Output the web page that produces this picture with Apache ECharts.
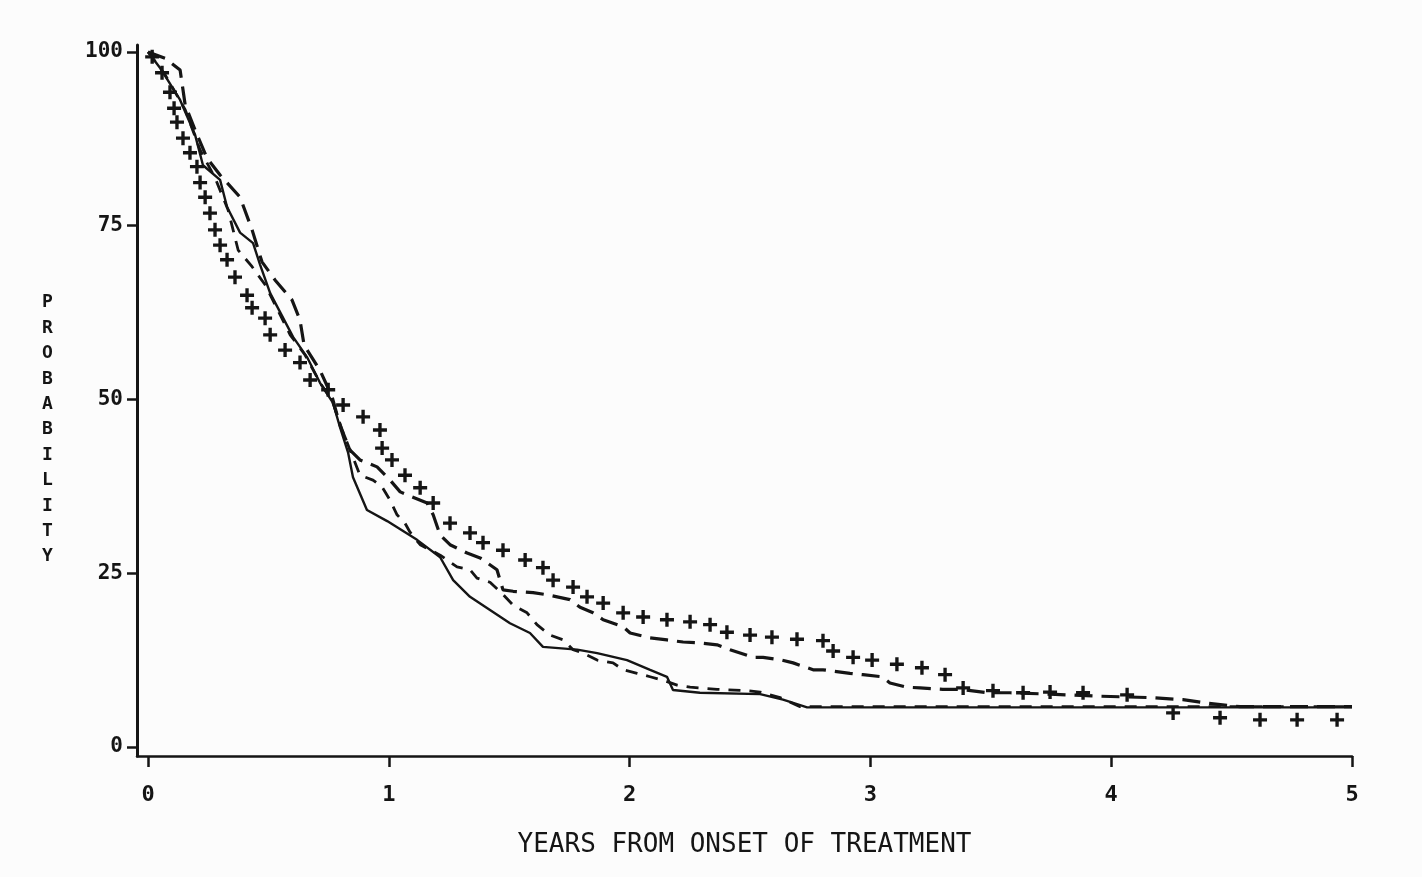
<!DOCTYPE html>
<html>
<head>
<meta charset="utf-8">
<title>Probability vs years from onset of treatment</title>
<script src="https://cdn.jsdelivr.net/npm/echarts@6/dist/echarts.min.js"></script>
<style>
  html, body { margin: 0; padding: 0; background: #fcfcfc; }
  #chart { width: 1422px; height: 877px; }
</style>
</head>
<body>
<div id="chart"></div>
<script>
// tick labels
var xTicks = [0, 1, 2, 3, 4, 5];
var yTicks = [0, 25, 50, 75, 100];

// solid curve [years, probability]
var solidCurve = [
  [0, 100], [0.05, 97.7], [0.133, 93.1], [0.195, 88.1], [0.228, 83.7], [0.299, 81.6],
  [0.328, 77.7], [0.382, 74.0], [0.436, 72.5], [0.465, 69.4], [0.507, 65.3], [0.602, 59.0],
  [0.66, 56.1], [0.714, 52.4], [0.768, 49.5], [0.797, 46.0], [0.831, 42.3], [0.851, 38.8],
  [0.909, 34.1], [0.993, 32.5], [1.117, 29.8], [1.213, 27.3], [1.267, 24.0], [1.337, 21.6],
  [1.42, 19.7], [1.503, 17.8], [1.586, 16.4], [1.64, 14.4], [1.782, 14.0], [1.865, 13.5],
  [1.989, 12.5], [2.085, 11.1], [2.155, 10.1], [2.18, 8.2], [2.292, 7.8], [2.542, 7.6],
  [2.637, 6.8], [2.737, 5.7], [5, 5.7]
];

// short dashed curve
var shortDashCurve = [
  [0, 100], [0.071, 96.7], [0.154, 91.7], [0.216, 85.9], [0.278, 81.9], [0.332, 77.3],
  [0.374, 71.5], [0.432, 69.1], [0.486, 66.5], [0.59, 59.3], [0.652, 56.4], [0.714, 52.4],
  [0.764, 49.9], [0.806, 45.6], [0.847, 42.0], [0.88, 39.1], [0.934, 38.4], [0.972, 37.4],
  [1.005, 35.5], [1.034, 33.4], [1.067, 32.2], [1.088, 30.9], [1.13, 29.1], [1.213, 27.6],
  [1.283, 25.9], [1.337, 25.5], [1.366, 24.3], [1.42, 23.7], [1.475, 21.9], [1.516, 20.4],
  [1.574, 19.3], [1.615, 17.6], [1.669, 16.1], [1.724, 15.4], [1.765, 14.0], [1.806, 13.5],
  [1.865, 12.5], [1.931, 12.1], [1.973, 11.1], [2.031, 10.6], [2.085, 10.1], [2.139, 9.6],
  [2.197, 8.9], [2.251, 8.6], [2.363, 8.3], [2.488, 8.1], [2.542, 7.9], [2.625, 7.1],
  [2.708, 5.8], [5, 5.8]
];

// long dashed curve
var longDashCurve = [
  [0, 100], [0.071, 99.1], [0.133, 97.4], [0.154, 92.4], [0.195, 88.8], [0.245, 84.7],
  [0.299, 82.3], [0.382, 79.1], [0.432, 74.4], [0.473, 69.8], [0.527, 67.2], [0.598, 64.3],
  [0.631, 61.4], [0.648, 57.8], [0.714, 54.2], [0.764, 50.4], [0.797, 46.3], [0.839, 42.7],
  [0.88, 41.3], [0.951, 40.3], [1.005, 38.4], [1.047, 36.7], [1.159, 35.1], [1.184, 33.4],
  [1.213, 30.5], [1.254, 29.1], [1.325, 27.9], [1.379, 27.2], [1.449, 25.5], [1.474, 22.6],
  [1.516, 22.4], [1.599, 22.2], [1.657, 21.9], [1.752, 21.2], [1.794, 20.1], [1.848, 19.3],
  [1.89, 18.3], [1.973, 17.3], [2.002, 16.4], [2.085, 15.7], [2.155, 15.4], [2.222, 15.1],
  [2.28, 15.0], [2.363, 14.7], [2.417, 14.0], [2.512, 12.9], [2.554, 12.9], [2.633, 12.5],
  [2.679, 12.1], [2.762, 11.1], [2.803, 11.1], [2.915, 10.6], [2.969, 10.4], [3.048, 10.1],
  [3.081, 9.2], [3.152, 8.6], [3.206, 8.5], [3.301, 8.3], [3.372, 8.3], [3.484, 7.8],
  [3.58, 7.8], [3.746, 7.6], [3.953, 7.3], [4.161, 7.1], [4.298, 6.8], [4.398, 6.3],
  [4.535, 5.8], [5, 5.8]
];

// curve drawn with plus marks
var plusMarks = [
  [0.017, 99.3], [0.058, 97.0], [0.091, 94.2], [0.108, 91.9], [0.12, 89.9], [0.145, 87.6],
  [0.174, 85.5], [0.203, 83.5], [0.216, 81.2], [0.237, 79.1], [0.257, 76.8], [0.278, 74.4],
  [0.299, 72.2], [0.328, 70.1], [0.361, 67.6], [0.411, 65.0], [0.432, 63.2], [0.486, 61.7],
  [0.507, 59.3], [0.569, 57.1], [0.631, 55.3], [0.673, 52.8], [0.748, 51.4], [0.81, 49.2],
  [0.893, 47.5], [0.963, 45.6], [0.972, 43.0], [1.013, 41.3], [1.067, 39.1], [1.13, 37.3],
  [1.184, 35.1], [1.254, 32.2], [1.337, 30.8], [1.391, 29.4], [1.474, 28.3], [1.566, 26.9],
  [1.64, 25.8], [1.682, 24.0], [1.765, 23.0], [1.823, 21.6], [1.89, 20.7], [1.973, 19.3],
  [2.056, 18.7], [2.155, 18.3], [2.251, 18.0], [2.334, 17.6], [2.404, 16.5], [2.5, 16.1],
  [2.591, 15.8], [2.695, 15.5], [2.803, 15.3], [2.845, 13.8], [2.928, 12.9], [3.007, 12.5],
  [3.11, 11.9], [3.214, 11.4], [3.31, 10.4], [3.385, 8.5], [3.509, 8.1], [3.634, 7.8],
  [3.746, 7.9], [3.883, 7.8], [4.066, 7.5], [4.257, 4.9], [4.452, 4.2], [4.618, 3.9],
  [4.772, 3.9], [4.938, 3.9]
];

var ink = '#151515';
var mono = "'DejaVu Sans Mono', 'Liberation Mono', monospace";

var chart = echarts.init(document.getElementById('chart'));

var option = {
  backgroundColor: '#fcfcfc',
  animation: false,
  grid: { left: 137, right: 70, top: 45, bottom: 121 },
  xAxis: {
    type: 'value',
    min: -0.046,
    max: 5,
    name: 'YEARS FROM ONSET OF TREATMENT',
    nameLocation: 'middle',
    nameGap: 76,
    nameTextStyle: { color: ink, fontFamily: mono, fontSize: 26 },
    axisLine: { show: true, onZero: false, lineStyle: { color: ink, width: 2.5 } },
    axisTick: { show: true, length: 11, customValues: xTicks, lineStyle: { color: ink, width: 2.5 } },
    axisLabel: {
      customValues: xTicks,
      margin: 28,
      color: ink,
      fontFamily: mono,
      fontSize: 22,
      fontWeight: 'bold'
    },
    splitLine: { show: false }
  },
  yAxis: {
    type: 'value',
    min: -1.3,
    max: 101,
    axisLine: { show: true, onZero: false, lineStyle: { color: ink, width: 3 } },
    axisTick: { show: true, length: 10, customValues: yTicks, lineStyle: { color: ink, width: 2.5 } },
    axisLabel: {
      customValues: yTicks,
      margin: 14,
      color: ink,
      fontFamily: mono,
      fontSize: 21,
      fontWeight: 'bold'
    },
    splitLine: { show: false }
  },
  graphic: [{
    type: 'text',
    left: 42,
    top: 290,
    style: {
      text: 'PROBABILITY'.split('').join('\n'),
      fill: ink,
      font: 'bold 18px ' + mono,
      lineHeight: 25.4,
      align: 'center'
    }
  }],
  series: [
    {
      name: 'solid',
      type: 'line',
      data: solidCurve,
      showSymbol: false,
      lineStyle: { color: ink, width: 2.4 }
    },
    {
      name: 'short dash',
      type: 'line',
      data: shortDashCurve,
      showSymbol: false,
      lineStyle: { color: ink, width: 2.8, type: [12, 9] }
    },
    {
      name: 'long dash',
      type: 'line',
      data: longDashCurve,
      showSymbol: false,
      lineStyle: { color: ink, width: 3.2, type: [18, 9] }
    },
    {
      name: 'plus',
      type: 'scatter',
      data: plusMarks,
      symbol: 'path://M0,3.8H10V6.2H0Z M3.8,0H6.2V10H3.8Z',
      symbolSize: 14,
      itemStyle: { color: ink, opacity: 1 }
    }
  ]
};

chart.setOption(option);
</script>
</body>
</html>
